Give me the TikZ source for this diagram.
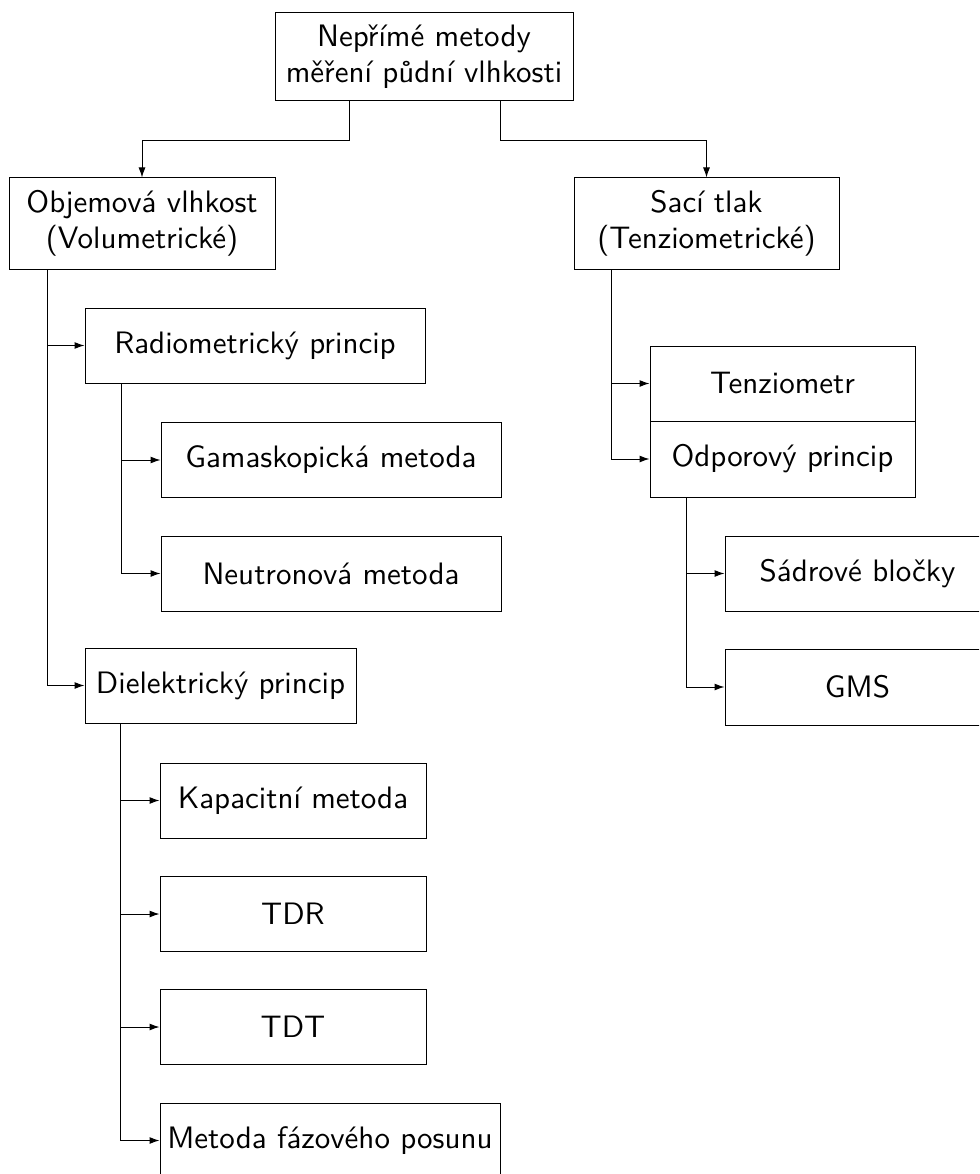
\documentclass[tikz,border=0pt]{standalone}
\usepackage{fontspec}
\newfontfamily\lmsten{lmsans10-regular.otf}
\usetikzlibrary{arrows.meta,calc}
\tikzset{
  box/.style={draw=black, line width=1pt, inner sep=0pt, align=center,
    font=\lmsten\fontsize{31}{36}\selectfont, minimum height=75pt},
  wA/.style={minimum width=266pt},
  wB/.style={minimum width=340pt},
  conn/.style={line width=1pt, -{Latex[length=10pt,width=7pt]}},
}
\begin{document}
\begin{tikzpicture}[x=1pt,y=-1pt]
\useasboundingbox (0,0) rectangle (979,1174);
\clip (0,0) rectangle (979,1174);
\node[box, minimum width=298pt, minimum height=88pt] (root) at (424,57) {Nepřímé metody\\měření půdní vlhkosti};
\node[box, wA, minimum height=91pt] (obj) at (142,223.5) {Objemová vlhkost\\(Volumetrické)};
\node[box, minimum width=265pt, minimum height=91pt] (sac) at (706.5,223.5) {Sací tlak\\(Tenziometrické)};
\node[box, wB] (rad) at (255,345.5) {Radiometrický princip};
\node[box, wB] (gam) at (331,460) {Gamaskopická metoda};
\node[box, wB] (neu) at (331,573.5) {Neutronová metoda};
\node[box, minimum width=271pt] (die) at (220.5,685.5) {Dielektrický princip};
\node[box, wA] (kap) at (293,800.5) {Kapacitní metoda};
\node[box, wA] (tdr) at (293,914) {TDR};
\node[box, wA] (tdt) at (293,1027) {TDT};
\node[box, wB] (met) at (330,1140.5) {Metoda fázového posunu};
\node[box, minimum width=265pt] (ten) at (782.5,383.5) {Tenziometr};
\node[box, minimum width=265pt, minimum height=76pt] (odp) at (782.5,459) {Odporový princip};
\node[box, minimum width=265pt] (sad) at (857.5,573.5) {Sádrové bločky};
\node[box, minimum width=265pt, minimum height=76pt] (gms) at (857.5,687) {GMS};
% connectors
\coordinate (rl) at ($(root.south)+(-75,0)$);
\coordinate (rr) at ($(root.south)+(76,0)$);
\draw[conn] (rl) -- ++(0,39) -| (obj.north);
\draw[conn] (rr) -- ++(0,39) -| (sac.north);
\coordinate (ov) at ($(obj.south west)+(39,0)$);
\draw[conn] (ov) |- (rad.west);
\draw[conn] (ov) |- (die.west);
\coordinate (rv) at ($(rad.south west)+(37,0)$);
\draw[conn] (rv) |- (gam.west);
\draw[conn] (rv) |- (neu.west);
\coordinate (dv) at ($(die.south west)+(36,0)$);
\draw[conn] (dv) |- (kap.west);
\draw[conn] (dv) |- (tdr.west);
\draw[conn] (dv) |- (tdt.west);
\draw[conn] (dv) |- (met.west);
\coordinate (sv) at ($(sac.south west)+(38,0)$);
\draw[conn] (sv) |- (ten.west);
\draw[conn] (sv) |- (odp.west);
\coordinate (pv) at ($(odp.south west)+(37,0)$);
\draw[conn] (pv) |- (sad.west);
\draw[conn] (pv) |- (gms.west);
\end{tikzpicture}
\end{document}
